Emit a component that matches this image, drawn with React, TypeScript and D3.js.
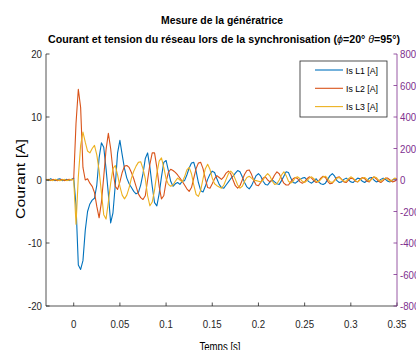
import React from "react";
import * as d3 from "d3";

// Sampling grid of the recorded signals (s)
const T_START = -0.03;
const T_STEP = 0.0025;

// Is L1 [A] (samples from -0.03 s to 0.35 s)
const L1_VALUES = [
  0.1, -0.1, 0.2, 0.0, -0.1, 0.1, 0.2, -0.1, 0.0, 0.1, -0.1, 0.1,
  0.3, -4.0, -13.5, -14.2, -12.8, -8.0, -5.0, -3.8, -3.2, -2.9,
  -0.8, 3.5, 5.9, 5.2, 1.8, -2.2, -6.8, -5.2, -0.8, 4.3,
  6.3, 4.0, 1.8, 0.3, -0.6, -1.2, -1.8, -2.2, -2.0, -0.8,
  1.0, 3.4, 4.3, 2.0, -1.0, -3.6, -4.1, -2.2, 0.5, 2.8,
  3.1, 1.5, -0.2, -1.0, -0.6, -0.4, -0.7, -0.2, -0.1, 0.8,
  1.9, 2.7, 2.8, 1.4, -0.4, -1.7, -1.9, -1.0, 0.1, 0.9,
  1.4, 1.2, 0.2, -0.7, -1.2, -1.3, -0.8, -0.3, 0.2, 0.6,
  1.1, 1.5, 1.3, 0.5, -0.4, -1.1, -1.4, -0.9, -0.1, 0.7,
  1.0, 0.6, -0.2, -0.7, -0.8, -0.3, 0.0, -0.3, -0.6, -0.7,
  -0.1, 0.6, 1.3, 1.2, 0.3, -0.4, -0.5, -0.2, 0.1, 0.3,
  0.4, 0.0, -0.3, -0.5, -0.2, 0.2, -0.3, -0.6, -0.7, -0.5,
  0.1, 0.7, 1.0, 0.6, -0.1, -0.4, -0.3, 0.1, 0.3, 0.0,
  -0.3, -0.4, 0.0, 0.3, 0.2, -0.2, -0.4, -0.1, 0.3, 0.4,
  0.0, -0.3, -0.2, 0.1, 0.3, 0.1, -0.2, -0.3, 0.0, 0.2,
  0.1,
];

// Is L2 [A]
const L2_VALUES = [
  0.0, 0.1, -0.1, 0.1, 0.0, -0.1, 0.0, 0.1, -0.1, 0.0, 0.1, 0.0,
  0.2, 9.0, 14.4, 11.5, 2.0, 0.0, 0.2, -0.5, -1.0, -2.0,
  -4.2, -6.0, -3.5, 0.5, 4.8, 7.4, 5.0, 1.5, -1.0, -1.5,
  -0.3, 1.2, 2.2, 2.3, 2.0, 1.2, 0.2, -1.0, -2.2, -2.8,
  -3.1, -2.5, 0.0, 2.5, 4.3, 4.3, 2.0, -1.0, -3.0, -2.5,
  -0.3, 1.2, 1.7, 1.5, 1.2, 0.8, 0.3, -0.2, -0.8, -1.4,
  -1.8, -1.2, 0.3, 1.8, 2.7, 2.8, 1.8, 0.2, -1.2, -1.3,
  -0.6, 0.2, 0.7, 0.4, 0.1, 0.5, 1.1, 1.4, 1.0, 0.0,
  -0.9, -1.3, -0.9, 0.0, 0.9, 1.5, 1.6, 0.9, -0.1, -0.8,
  -0.9, -0.4, 0.3, 0.5, 0.0, -0.3, 0.1, 0.8, 1.3, 1.0,
  0.2, -0.5, -0.8, -0.8, -0.3, 0.2, 0.4, 0.2, -0.3, -0.5,
  -0.3, 0.2, 0.5, 0.3, -0.1, -0.4, -0.2, 0.3, 0.6, 0.4,
  -0.2, -0.6, -0.5, 0.0, 0.4, 0.5, 0.1, -0.3, -0.4, 0.0,
  0.3, 0.2, -0.2, -0.3, 0.1, 0.4, 0.2, -0.2, -0.3, 0.2,
  0.5, 0.2, -0.2, -0.4, -0.1, 0.3, 0.3, 0.0, -0.3, -0.2,
  0.1,
];

// Is L3 [A]
const L3_VALUES = [
  0.1, 0.0, 0.0, -0.1, 0.1, 0.0, -0.1, 0.0, 0.1, -0.1, 0.0, 0.1,
  0.0, -7.0, 0.5, 5.5, 7.6, 6.0, 4.6, 4.3, 5.0, 5.5,
  4.0, 1.5, -2.0, -5.5, -6.2, -3.5, -0.5, 1.8, 2.3, 0.8,
  -1.0, -2.4, -3.0, -2.4, -1.2, 0.3, 1.4, 2.2, 2.8, 2.9,
  1.8, 0.2, -2.5, -4.1, -3.5, -1.6, 1.0, 3.0, 3.5, 2.0,
  0.2, -0.7, -1.0, -0.8, -0.2, 0.3, 0.0, -0.3, 0.5, 1.6,
  2.0, 1.0, -0.8, -2.3, -2.6, -1.6, 0.2, 1.8, 2.5, 1.7,
  0.3, -0.6, -0.9, -1.1, -1.3, -0.8, 0.1, 1.0, 1.4, 1.0,
  0.1, -0.8, -1.3, -1.0, -0.2, 0.4, 0.6, 0.3, 0.0, -0.1,
  -0.2, -0.3, 0.0, 0.6, 1.0, 0.6, -0.2, -0.7, -0.6, 0.0,
  0.8, 1.3, 0.7, -0.2, -0.5, -0.2, 0.4, 0.5, 0.2, -0.2,
  -0.4, -0.1, 0.3, 0.5, 0.2, -0.2, -0.3, 0.1, 0.5, 0.6,
  0.2, -0.3, -0.4, -0.1, 0.3, 0.4, 0.1, -0.2, -0.2, 0.2,
  0.5, 0.3, -0.1, -0.3, 0.0, 0.3, 0.4, 0.1, -0.2, 0.1,
  0.5, 0.4, 0.0, -0.2, 0.1, 0.3, 0.1, -0.2, 0.0, 0.3,
  0.2,
];

const SERIES_NAMES = ["Is L1 [A]", "Is L2 [A]", "Is L3 [A]"];
const SERIES_COLORS = ["#0072BD", "#D95319", "#EDB120"];

const X_TICKS = [0, 0.05, 0.1, 0.15, 0.2, 0.25, 0.3, 0.35];
const X_TICK_LABELS = ["0", "0.05", "0.1", "0.15", "0.2", "0.25", "0.3", "0.35"];
const Y_TICKS = [20, 10, 0, -10, -20];
const Y_TICK_LABELS = ["20", "10", "0", "-10", "-20"];
const YR_TICKS = [800, 600, 400, 200, 0, -200, -400, -600, -800];
const YR_TICK_LABELS = ["800", "600", "400", "200", "0", "-200", "-400", "-600", "-800"];

const TITLE_1 = "Mesure de la génératrice";
const X_LABEL = "Temps [s]";
const Y_LABEL = "Courant [A]";

const W = 416;
const H = 350;
const LEFT = 46;
const RIGHT = 397;
const TOP = 54;
const BOTTOM = 306;
const AXIS = "#262626";
const PURPLE = "#7E2F8E";
const FONT = "'Liberation Sans', Arial, Helvetica, sans-serif";

export default function App() {
  const x = d3.scaleLinear().domain([-0.03, 0.35]).range([LEFT, RIGHT]);
  const y = d3.scaleLinear().domain([-20, 20]).range([BOTTOM, TOP]);
  const yR = d3.scaleLinear().domain([-800, 800]).range([BOTTOM, TOP]);
  const times = L1_VALUES.map((_, i) => T_START + i * T_STEP);
  const line = d3
    .line<number>()
    .x((_, i) => x(times[i]))
    .y((d) => y(d));
  const series = [L1_VALUES, L2_VALUES, L3_VALUES];
  const tick = 3.5;

  return (
    <svg
      width={W}
      height={H}
      style={{ position: "absolute", left: 0, top: 0, background: "#fff" }}
      fontFamily={FONT}
    >
      <rect x={0} y={0} width={W} height={H} fill="#fff" />
      {/* Titles */}
      <text x={222} y={24} textAnchor="middle" fontSize={11.5} fontWeight="bold" fill="#000" textLength={122} lengthAdjust="spacingAndGlyphs">
        {TITLE_1}
      </text>
      <text x={224} y={42.5} textAnchor="middle" fontSize={11.5} fontWeight="bold" fill="#000" textLength={352} lengthAdjust="spacingAndGlyphs">
        Courant et tension du réseau lors de la synchronisation (<tspan fontStyle="italic" fontWeight="normal">ϕ</tspan>=20° <tspan fontStyle="italic" fontWeight="normal">θ</tspan>=95°)
      </text>

      {/* Data */}
      <g fill="none" strokeWidth={1.1} strokeLinejoin="round">
        {series.map((vals, k) => (
          <path key={k} d={line(vals) || ""} stroke={SERIES_COLORS[k]} />
        ))}
      </g>

      {/* Left axis */}
      <line x1={LEFT} x2={LEFT} y1={TOP} y2={BOTTOM} stroke={AXIS} strokeWidth={0.8} />
      {Y_TICKS.map((v, i) => (
        <g key={v}>
          <line x1={LEFT} x2={LEFT + tick} y1={y(v)} y2={y(v)} stroke={AXIS} strokeWidth={0.8} />
          <text x={42} y={y(v) + 4} textAnchor="end" fontSize={11} fill={AXIS} transform={`translate(${42 * 0.12},0) scale(0.88,1)`} >
            {Y_TICK_LABELS[i]}
          </text>
        </g>
      ))}
      <text transform={`translate(25,179) rotate(-90)`} textAnchor="middle" fontSize={12.5} fill="#000" textLength={80} lengthAdjust="spacingAndGlyphs">
        {Y_LABEL}
      </text>

      {/* Bottom axis */}
      <line x1={LEFT} x2={RIGHT} y1={BOTTOM} y2={BOTTOM} stroke={AXIS} strokeWidth={0.8} />
      {X_TICKS.map((v, i) => (
        <g key={v}>
          <line x1={x(v)} x2={x(v)} y1={BOTTOM} y2={BOTTOM - tick} stroke={AXIS} strokeWidth={0.8} />
          <text
            textAnchor="middle"
            fontSize={11}
            fill={AXIS}
            transform={`translate(${x(v)},328) scale(0.88,1)`}
          >
            {X_TICK_LABELS[i]}
          </text>
        </g>
      ))}
      <text x={220} y={351} textAnchor="middle" fontSize={12} fill="#000" textLength={41} lengthAdjust="spacingAndGlyphs">
        {X_LABEL}
      </text>

      {/* Right axis */}
      <line x1={RIGHT} x2={RIGHT} y1={TOP} y2={BOTTOM} stroke={PURPLE} strokeWidth={0.8} />
      {YR_TICKS.map((v, i) => (
        <g key={v}>
          <line x1={RIGHT} x2={RIGHT - tick} y1={yR(v)} y2={yR(v)} stroke={PURPLE} strokeWidth={0.8} />
          <text fontSize={11} fill={PURPLE} transform={`translate(400,${yR(v) + 4}) scale(0.88,1)`}>
            {YR_TICK_LABELS[i]}
          </text>
        </g>
      ))}

      {/* Legend */}
      <rect x={300} y={61} width={87} height={56} fill="#fff" stroke={AXIS} strokeWidth={0.8} />
      {SERIES_NAMES.map((name, k) => {
        const cy = 70 + k * 18.3;
        return (
          <g key={name}>
            <line x1={315} x2={343} y1={cy} y2={cy} stroke={SERIES_COLORS[k]} strokeWidth={1.1} />
            <text x={346} y={cy + 3.5} fontSize={9.5} fill="#000" textLength={32} lengthAdjust="spacingAndGlyphs">
              {name}
            </text>
          </g>
        );
      })}
    </svg>
  );
}
